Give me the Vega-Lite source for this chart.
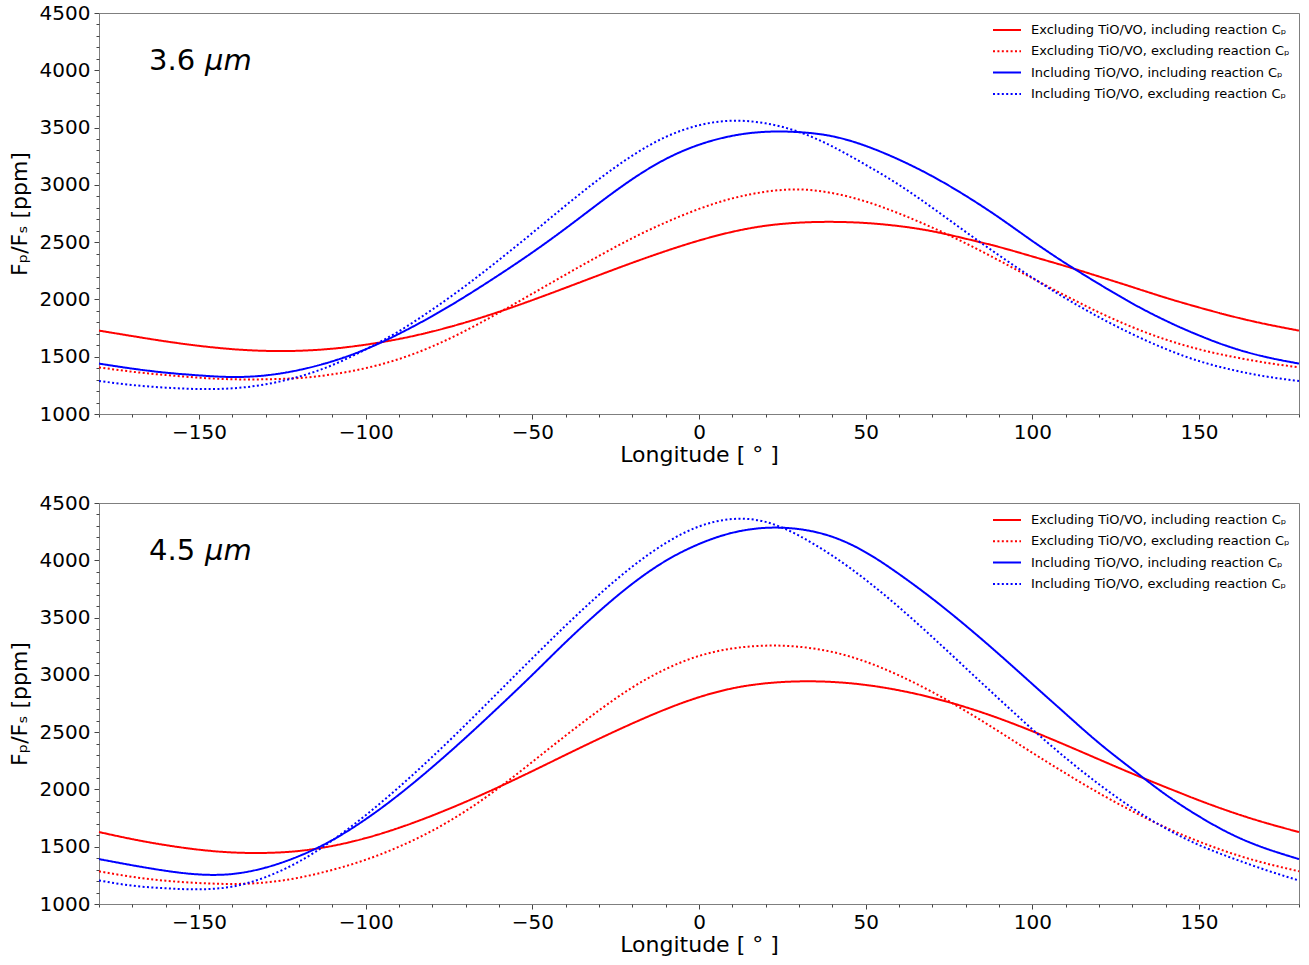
{
  "$schema": "https://vega.github.io/schema/vega-lite/v6.json",
  "background": "white",
  "padding": {"left": 7, "top": 2, "right": 11, "bottom": 4},
  "bounds": "flush",
  "spacing": 89,
  "config": {
    "font": "DejaVu Sans",
    "view": {"stroke": "#7f7f7f", "strokeWidth": 1},
    "axis": {
      "grid": false,
      "domainColor": "#7f7f7f",
      "tickColor": "#444444",
      "tickSize": 5,
      "tickWidth": 1,
      "labelFontSize": 20,
      "labelColor": "#000000",
      "titleFontSize": 22,
      "titleFontWeight": "normal",
      "titleColor": "#000000",
      "labelPadding": 3
    },
    "legend": {
      "title": null,
      "orient": "none",
      "legendX": 893,
      "legendY": 10,
      "padding": 0,
      "symbolType": "stroke",
      "symbolSize": 784,
      "symbolStrokeWidth": 2,
      "clipHeight": 14,
      "rowPadding": 7.3,
      "labelFontSize": 13,
      "labelColor": "#000000",
      "labelOffset": 9,
      "labelLimit": 400
    }
  },
  "datasets": {
    "irac36": [
      {"lon": -180, "excl_incl": 1728, "excl_excl": 1407, "incl_incl": 1440, "incl_excl": 1288},
      {"lon": -170, "excl_incl": 1680, "excl_excl": 1369, "incl_incl": 1396, "incl_excl": 1253},
      {"lon": -160, "excl_incl": 1634, "excl_excl": 1340, "incl_incl": 1361, "incl_excl": 1230},
      {"lon": -150, "excl_incl": 1595, "excl_excl": 1317, "incl_incl": 1337, "incl_excl": 1218},
      {"lon": -140, "excl_incl": 1566, "excl_excl": 1303, "incl_incl": 1323, "incl_excl": 1224},
      {"lon": -130, "excl_incl": 1551, "excl_excl": 1303, "incl_incl": 1337, "incl_excl": 1259},
      {"lon": -120, "excl_incl": 1552, "excl_excl": 1314, "incl_incl": 1384, "incl_excl": 1326},
      {"lon": -110, "excl_incl": 1570, "excl_excl": 1346, "incl_incl": 1460, "incl_excl": 1427},
      {"lon": -100, "excl_incl": 1605, "excl_excl": 1400, "incl_incl": 1565, "incl_excl": 1564},
      {"lon": -90, "excl_incl": 1655, "excl_excl": 1480, "incl_incl": 1700, "incl_excl": 1723},
      {"lon": -80, "excl_incl": 1720, "excl_excl": 1590, "incl_incl": 1855, "incl_excl": 1912},
      {"lon": -70, "excl_incl": 1800, "excl_excl": 1728, "incl_incl": 2028, "incl_excl": 2120},
      {"lon": -60, "excl_incl": 1892, "excl_excl": 1885, "incl_incl": 2214, "incl_excl": 2345},
      {"lon": -50, "excl_incl": 1994, "excl_excl": 2050, "incl_incl": 2410, "incl_excl": 2580},
      {"lon": -40, "excl_incl": 2102, "excl_excl": 2217, "incl_incl": 2620, "incl_excl": 2820},
      {"lon": -30, "excl_incl": 2212, "excl_excl": 2380, "incl_incl": 2840, "incl_excl": 3050},
      {"lon": -20, "excl_incl": 2320, "excl_excl": 2535, "incl_incl": 3050, "incl_excl": 3255},
      {"lon": -10, "excl_incl": 2422, "excl_excl": 2672, "incl_incl": 3225, "incl_excl": 3418},
      {"lon": 0, "excl_incl": 2514, "excl_excl": 2790, "incl_incl": 3350, "incl_excl": 3520},
      {"lon": 10, "excl_incl": 2590, "excl_excl": 2882, "incl_incl": 3428, "incl_excl": 3560},
      {"lon": 20, "excl_incl": 2643, "excl_excl": 2940, "incl_incl": 3463, "incl_excl": 3537},
      {"lon": 30, "excl_incl": 2670, "excl_excl": 2960, "incl_incl": 3460, "incl_excl": 3462},
      {"lon": 40, "excl_incl": 2677, "excl_excl": 2928, "incl_incl": 3424, "incl_excl": 3335},
      {"lon": 50, "excl_incl": 2667, "excl_excl": 2855, "incl_incl": 3340, "incl_excl": 3175},
      {"lon": 60, "excl_incl": 2640, "excl_excl": 2750, "incl_incl": 3220, "incl_excl": 3000},
      {"lon": 70, "excl_incl": 2595, "excl_excl": 2627, "incl_incl": 3075, "incl_excl": 2800},
      {"lon": 80, "excl_incl": 2530, "excl_excl": 2490, "incl_incl": 2905, "incl_excl": 2590},
      {"lon": 90, "excl_incl": 2458, "excl_excl": 2340, "incl_incl": 2715, "incl_excl": 2385},
      {"lon": 100, "excl_incl": 2375, "excl_excl": 2185, "incl_incl": 2510, "incl_excl": 2190},
      {"lon": 110, "excl_incl": 2290, "excl_excl": 2032, "incl_incl": 2315, "incl_excl": 2010},
      {"lon": 120, "excl_incl": 2200, "excl_excl": 1887, "incl_incl": 2135, "incl_excl": 1845},
      {"lon": 130, "excl_incl": 2108, "excl_excl": 1758, "incl_incl": 1965, "incl_excl": 1697},
      {"lon": 140, "excl_incl": 2015, "excl_excl": 1650, "incl_incl": 1815, "incl_excl": 1568},
      {"lon": 150, "excl_incl": 1930, "excl_excl": 1565, "incl_incl": 1686, "incl_excl": 1462},
      {"lon": 160, "excl_incl": 1852, "excl_excl": 1500, "incl_incl": 1578, "incl_excl": 1385},
      {"lon": 170, "excl_incl": 1785, "excl_excl": 1448, "incl_incl": 1498, "incl_excl": 1328},
      {"lon": 180, "excl_incl": 1728, "excl_excl": 1407, "incl_incl": 1440, "incl_excl": 1288}
    ],
    "irac45": [
      {"lon": -180, "excl_incl": 1628, "excl_excl": 1285, "incl_incl": 1392, "incl_excl": 1205},
      {"lon": -170, "excl_incl": 1566, "excl_excl": 1237, "incl_incl": 1338, "incl_excl": 1160},
      {"lon": -160, "excl_incl": 1514, "excl_excl": 1203, "incl_incl": 1290, "incl_excl": 1137},
      {"lon": -150, "excl_incl": 1474, "excl_excl": 1183, "incl_incl": 1258, "incl_excl": 1128},
      {"lon": -140, "excl_incl": 1450, "excl_excl": 1175, "incl_incl": 1262, "incl_excl": 1152},
      {"lon": -130, "excl_incl": 1446, "excl_excl": 1188, "incl_incl": 1318, "incl_excl": 1235},
      {"lon": -120, "excl_incl": 1463, "excl_excl": 1230, "incl_incl": 1418, "incl_excl": 1370},
      {"lon": -110, "excl_incl": 1507, "excl_excl": 1298, "incl_incl": 1558, "incl_excl": 1555},
      {"lon": -100, "excl_incl": 1575, "excl_excl": 1386, "incl_incl": 1740, "incl_excl": 1775},
      {"lon": -90, "excl_incl": 1665, "excl_excl": 1500, "incl_incl": 1955, "incl_excl": 2020},
      {"lon": -80, "excl_incl": 1772, "excl_excl": 1640, "incl_incl": 2195, "incl_excl": 2285},
      {"lon": -70, "excl_incl": 1892, "excl_excl": 1812, "incl_incl": 2452, "incl_excl": 2565},
      {"lon": -60, "excl_incl": 2022, "excl_excl": 2015, "incl_incl": 2722, "incl_excl": 2855},
      {"lon": -50, "excl_incl": 2160, "excl_excl": 2240, "incl_incl": 3000, "incl_excl": 3145},
      {"lon": -40, "excl_incl": 2302, "excl_excl": 2470, "incl_incl": 3285, "incl_excl": 3430},
      {"lon": -30, "excl_incl": 2442, "excl_excl": 2690, "incl_incl": 3553, "incl_excl": 3700},
      {"lon": -20, "excl_incl": 2576, "excl_excl": 2890, "incl_incl": 3795, "incl_excl": 3945},
      {"lon": -10, "excl_incl": 2700, "excl_excl": 3050, "incl_incl": 3995, "incl_excl": 4150},
      {"lon": 0, "excl_incl": 2805, "excl_excl": 3165, "incl_incl": 4142, "incl_excl": 4295},
      {"lon": 10, "excl_incl": 2882, "excl_excl": 3230, "incl_incl": 4240, "incl_excl": 4360},
      {"lon": 20, "excl_incl": 2926, "excl_excl": 3255, "incl_incl": 4283, "incl_excl": 4335},
      {"lon": 30, "excl_incl": 2943, "excl_excl": 3245, "incl_incl": 4272, "incl_excl": 4215},
      {"lon": 40, "excl_incl": 2938, "excl_excl": 3200, "incl_incl": 4205, "incl_excl": 4040},
      {"lon": 50, "excl_incl": 2912, "excl_excl": 3115, "incl_incl": 4070, "incl_excl": 3830},
      {"lon": 60, "excl_incl": 2865, "excl_excl": 2995, "incl_incl": 3880, "incl_excl": 3590},
      {"lon": 70, "excl_incl": 2800, "excl_excl": 2850, "incl_incl": 3665, "incl_excl": 3330},
      {"lon": 80, "excl_incl": 2718, "excl_excl": 2685, "incl_incl": 3430, "incl_excl": 3060},
      {"lon": 90, "excl_incl": 2620, "excl_excl": 2505, "incl_incl": 3180, "incl_excl": 2790},
      {"lon": 100, "excl_incl": 2508, "excl_excl": 2320, "incl_incl": 2920, "incl_excl": 2525},
      {"lon": 110, "excl_incl": 2387, "excl_excl": 2140, "incl_incl": 2660, "incl_excl": 2275},
      {"lon": 120, "excl_incl": 2262, "excl_excl": 1968, "incl_incl": 2405, "incl_excl": 2045},
      {"lon": 130, "excl_incl": 2138, "excl_excl": 1810, "incl_incl": 2175, "incl_excl": 1838},
      {"lon": 140, "excl_incl": 2020, "excl_excl": 1668, "incl_incl": 1955, "incl_excl": 1660},
      {"lon": 150, "excl_incl": 1905, "excl_excl": 1545, "incl_incl": 1765, "incl_excl": 1515},
      {"lon": 160, "excl_incl": 1800, "excl_excl": 1440, "incl_incl": 1605, "incl_excl": 1400},
      {"lon": 170, "excl_incl": 1708, "excl_excl": 1355, "incl_incl": 1485, "incl_excl": 1297},
      {"lon": 180, "excl_incl": 1628, "excl_excl": 1285, "incl_incl": 1392, "incl_excl": 1205}
    ]
  },
  "resolve": {
    "scale": {"color": "independent", "strokeDash": "independent"},
    "legend": {"color": "independent", "strokeDash": "independent"}
  },
  "vconcat": [
    {
      "width": 1200,
      "height": 401,
      "layer": [
        {
          "data": {"name": "irac36"},
          "transform": [{"fold": ["excl_incl", "excl_excl", "incl_incl", "incl_excl"], "as": ["series", "flux"]}],
          "mark": {"type": "line", "interpolate": "natural", "strokeWidth": 2},
          "encoding": {
            "x": {"field": "lon", "type": "quantitative", "scale": {"domain": [-180, 180], "nice": false, "zero": false},
                  "axis": {"orient": "bottom", "values": [-150, -100, -50, 0, 50, 100, 150], "format": "d", "title": "Longitude [ ° ]", "titlePadding": 2}},
            "y": {"field": "flux", "type": "quantitative", "scale": {"domain": [1000, 4500], "nice": false, "zero": false},
                  "axis": {"orient": "left", "values": [1000, 1500, 2000, 2500, 3000, 3500, 4000, 4500], "format": "d", "title": "Fₚ/Fₛ [ppm]", "labelPadding": 4, "titlePadding": 8}},
            "color": {"field": "series", "type": "nominal",
                      "scale": {"domain": ["excl_incl", "excl_excl", "incl_incl", "incl_excl"], "range": ["#ff0000", "#ff0000", "#0000ff", "#0000ff"]},
                      "legend": {"labelExpr": "datum.value == 'excl_incl' ? 'Excluding TiO/VO, including reaction Cₚ' : datum.value == 'excl_excl' ? 'Excluding TiO/VO, excluding reaction Cₚ' : datum.value == 'incl_incl' ? 'Including TiO/VO, including reaction Cₚ' : 'Including TiO/VO, excluding reaction Cₚ'"}},
            "strokeDash": {"field": "series", "type": "nominal",
                           "scale": {"domain": ["excl_incl", "excl_excl", "incl_incl", "incl_excl"], "range": [[1, 0], [2, 2.4], [1, 0], [2, 2.4]]},
                           "legend": {"labelExpr": "datum.value == 'excl_incl' ? 'Excluding TiO/VO, including reaction Cₚ' : datum.value == 'excl_excl' ? 'Excluding TiO/VO, excluding reaction Cₚ' : datum.value == 'incl_incl' ? 'Including TiO/VO, including reaction Cₚ' : 'Including TiO/VO, excluding reaction Cₚ'"}}
          }
        },
        {
          "data": {"values": [{}]},
          "mark": {"type": "text", "fontSize": 29, "align": "left", "baseline": "alphabetic", "color": "#000000"},
          "encoding": {
            "x": {"datum": -165, "type": "quantitative",
                  "axis": {"orient": "bottom", "values": [-180, -170, -160, -140, -130, -120, -110, -90, -80, -70, -60, -40, -30, -20, -10, 10, 20, 30, 40, 60, 70, 80, 90, 110, 120, 130, 140, 160, 170, 180], "labels": false, "domain": false, "tickSize": 3, "title": null}},
            "y": {"datum": 4000, "type": "quantitative",
                  "axis": {"orient": "left", "values": [1100, 1200, 1300, 1400, 1600, 1700, 1800, 1900, 2100, 2200, 2300, 2400, 2600, 2700, 2800, 2900, 3100, 3200, 3300, 3400, 3600, 3700, 3800, 3900, 4100, 4200, 4300, 4400], "labels": false, "domain": false, "tickSize": 3, "title": null}},
            "text": {"value": "3.6"}
          }
        },
        {
          "data": {"values": [{}]},
          "mark": {"type": "text", "fontSize": 29, "fontStyle": "italic", "align": "left", "baseline": "alphabetic", "dx": 56, "color": "#000000"},
          "encoding": {
            "x": {"datum": -165, "type": "quantitative", "axis": null},
            "y": {"datum": 4000, "type": "quantitative", "axis": null},
            "text": {"value": "μm"}
          }
        }
      ],
      "resolve": {"axis": {"x": "independent", "y": "independent"}}
    },
    {
      "width": 1200,
      "height": 401,
      "layer": [
        {
          "data": {"name": "irac45"},
          "transform": [{"fold": ["excl_incl", "excl_excl", "incl_incl", "incl_excl"], "as": ["series", "flux"]}],
          "mark": {"type": "line", "interpolate": "natural", "strokeWidth": 2},
          "encoding": {
            "x": {"field": "lon", "type": "quantitative", "scale": {"domain": [-180, 180], "nice": false, "zero": false},
                  "axis": {"orient": "bottom", "values": [-150, -100, -50, 0, 50, 100, 150], "format": "d", "title": "Longitude [ ° ]", "titlePadding": 2}},
            "y": {"field": "flux", "type": "quantitative", "scale": {"domain": [1000, 4500], "nice": false, "zero": false},
                  "axis": {"orient": "left", "values": [1000, 1500, 2000, 2500, 3000, 3500, 4000, 4500], "format": "d", "title": "Fₚ/Fₛ [ppm]", "labelPadding": 4, "titlePadding": 8}},
            "color": {"field": "series", "type": "nominal",
                      "scale": {"domain": ["excl_incl", "excl_excl", "incl_incl", "incl_excl"], "range": ["#ff0000", "#ff0000", "#0000ff", "#0000ff"]},
                      "legend": {"labelExpr": "datum.value == 'excl_incl' ? 'Excluding TiO/VO, including reaction Cₚ' : datum.value == 'excl_excl' ? 'Excluding TiO/VO, excluding reaction Cₚ' : datum.value == 'incl_incl' ? 'Including TiO/VO, including reaction Cₚ' : 'Including TiO/VO, excluding reaction Cₚ'"}},
            "strokeDash": {"field": "series", "type": "nominal",
                           "scale": {"domain": ["excl_incl", "excl_excl", "incl_incl", "incl_excl"], "range": [[1, 0], [2, 2.4], [1, 0], [2, 2.4]]},
                           "legend": {"labelExpr": "datum.value == 'excl_incl' ? 'Excluding TiO/VO, including reaction Cₚ' : datum.value == 'excl_excl' ? 'Excluding TiO/VO, excluding reaction Cₚ' : datum.value == 'incl_incl' ? 'Including TiO/VO, including reaction Cₚ' : 'Including TiO/VO, excluding reaction Cₚ'"}}
          }
        },
        {
          "data": {"values": [{}]},
          "mark": {"type": "text", "fontSize": 29, "align": "left", "baseline": "alphabetic", "color": "#000000"},
          "encoding": {
            "x": {"datum": -165, "type": "quantitative",
                  "axis": {"orient": "bottom", "values": [-180, -170, -160, -140, -130, -120, -110, -90, -80, -70, -60, -40, -30, -20, -10, 10, 20, 30, 40, 60, 70, 80, 90, 110, 120, 130, 140, 160, 170, 180], "labels": false, "domain": false, "tickSize": 3, "title": null}},
            "y": {"datum": 4000, "type": "quantitative",
                  "axis": {"orient": "left", "values": [1100, 1200, 1300, 1400, 1600, 1700, 1800, 1900, 2100, 2200, 2300, 2400, 2600, 2700, 2800, 2900, 3100, 3200, 3300, 3400, 3600, 3700, 3800, 3900, 4100, 4200, 4300, 4400], "labels": false, "domain": false, "tickSize": 3, "title": null}},
            "text": {"value": "4.5"}
          }
        },
        {
          "data": {"values": [{}]},
          "mark": {"type": "text", "fontSize": 29, "fontStyle": "italic", "align": "left", "baseline": "alphabetic", "dx": 56, "color": "#000000"},
          "encoding": {
            "x": {"datum": -165, "type": "quantitative", "axis": null},
            "y": {"datum": 4000, "type": "quantitative", "axis": null},
            "text": {"value": "μm"}
          }
        }
      ],
      "resolve": {"axis": {"x": "independent", "y": "independent"}}
    }
  ]
}
